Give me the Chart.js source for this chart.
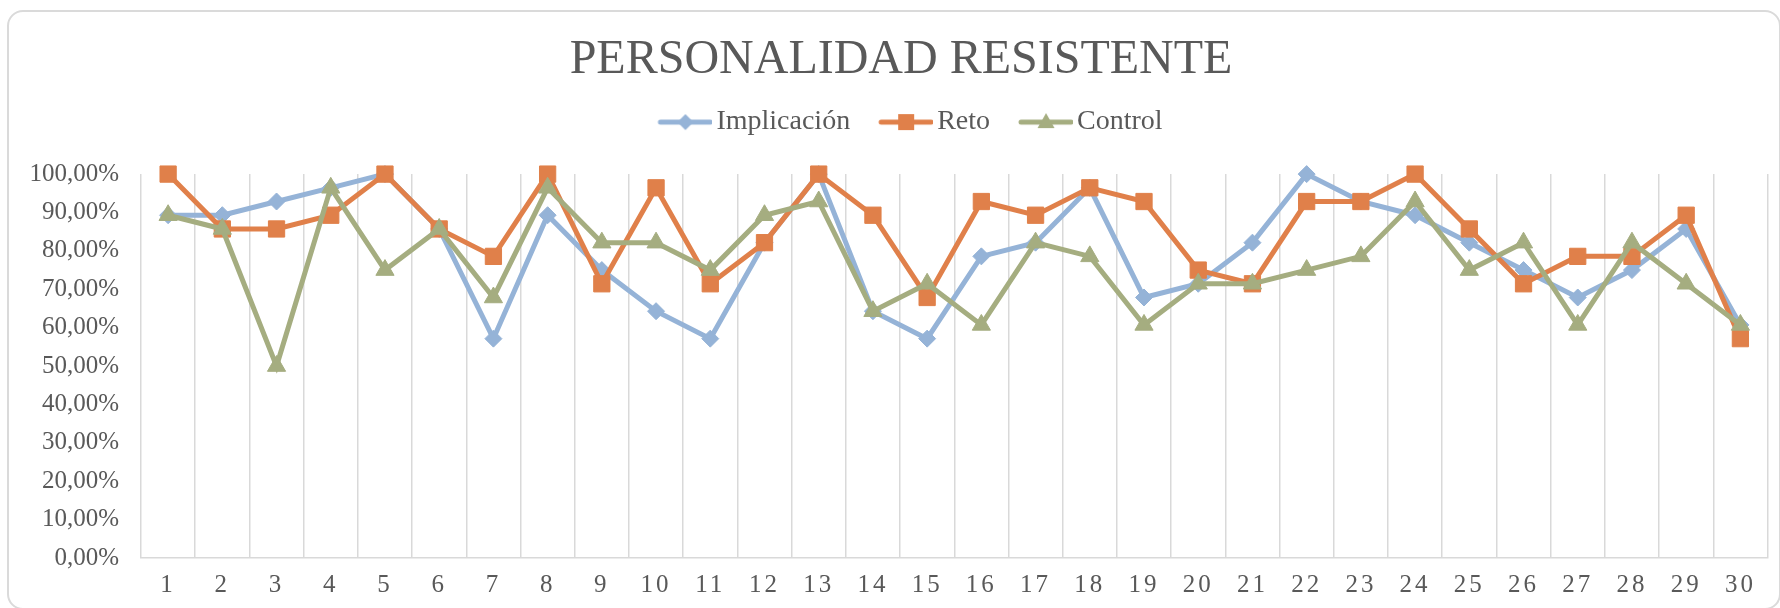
<!DOCTYPE html>
<html lang="es">
<head>
    <meta charset="UTF-8">
    <title>Personalidad Resistente</title>
    <script src="https://cdn.jsdelivr.net/npm/chart.js"></script>
    <style>
        body {
            margin: 0;
            background-color: #fff;
            font-family: "Liberation Serif", serif;
        }

        .frame {
            position: absolute;
            left: 7px;
            top: 10px;
            width: 1770px;
            height: 596px;
            border: 2px solid #dadada;
            border-radius: 16px;
        }

        .chart-container {
            position: absolute;
            left: 0;
            top: 0;
            width: 1780px;
            height: 608px;
        }
    </style>
</head>
<body>

    <div class="frame"></div>
    <div class="chart-container">
        <canvas id="myLineChart"></canvas>
    </div>

    <script>
        // Datos (porcentajes)
        const categorias = ['1', '2', '3', '4', '5', '6', '7', '8', '9', '10',
                            '11', '12', '13', '14', '15', '16', '17', '18', '19', '20',
                            '21', '22', '23', '24', '25', '26', '27', '28', '29', '30'];

        const implicacion = [89.29, 89.29, 92.86, 96.43, 100, 85.71, 57.14, 89.29, 75, 64.29,
                             57.14, 82.14, 100, 64.29, 57.14, 78.57, 82.14, 96.43, 67.86, 71.43,
                             82.14, 100, 92.86, 89.29, 82.14, 75, 67.86, 75, 85.71, 60.71];

        const reto = [100, 85.71, 85.71, 89.29, 100, 85.71, 78.57, 100, 71.43, 96.43,
                      71.43, 82.14, 100, 89.29, 67.86, 92.86, 89.29, 96.43, 92.86, 75,
                      71.43, 92.86, 92.86, 100, 85.71, 71.43, 78.57, 78.57, 89.29, 57.14];

        const control = [89.29, 85.71, 50, 96.43, 75, 85.71, 67.86, 96.43, 82.14, 82.14,
                         75, 89.29, 92.86, 64.29, 71.43, 60.71, 82.14, 78.57, 60.71, 71.43,
                         71.43, 75, 78.57, 92.86, 75, 82.14, 60.71, 82.14, 71.43, 60.71];

        const ticksY = [0, 10, 20, 30, 40, 50, 60, 70, 80, 90, 100];

        const colorImplicacion = '#95b3d7';
        const colorReto = '#e0804a';
        const colorControl = '#a5ad80';

        const fuente = 'Liberation Serif';
        const gris = '#595959';

        // Icono de leyenda: línea con marcador en el centro
        function iconoLeyenda(color, forma) {
            const c = document.createElement('canvas');
            c.width = 83;
            c.height = 28;
            const g = c.getContext('2d');
            g.strokeStyle = color;
            g.fillStyle = color;
            g.lineWidth = 5;
            g.lineCap = 'round';
            g.beginPath();
            g.moveTo(31, 14);
            g.lineTo(81, 14);
            g.stroke();
            const cx = 56, cy = 14;
            g.beginPath();
            if (forma === 'rombo') {
                g.moveTo(cx, cy - 8); g.lineTo(cx + 8, cy); g.lineTo(cx, cy + 8); g.lineTo(cx - 8, cy);
            } else if (forma === 'cuadro') {
                g.rect(cx - 8, cy - 8, 16, 16);
            } else {
                g.moveTo(cx, cy - 9); g.lineTo(cx + 8.5, cy + 6); g.lineTo(cx - 8.5, cy + 6);
            }
            g.closePath();
            g.fill();
            return c;
        }

        const iconos = [
            iconoLeyenda(colorImplicacion, 'rombo'),
            iconoLeyenda(colorReto, 'cuadro'),
            iconoLeyenda(colorControl, 'triangulo')
        ];

        // Espacio extra bajo la leyenda y separación entre dígitos del eje X
        const ajustes = {
            id: 'ajustes',
            beforeInit(chart) {
                const fitOriginal = chart.legend.fit;
                chart.legend.fit = function() {
                    fitOriginal.call(this);
                    this.height += 28;
                };
            },
            afterLayout(chart) {
                const eje = chart.scales.x;
                if (!eje._espaciado) {
                    const original = eje.drawLabels;
                    eje.drawLabels = function(area) {
                        this.ctx.save();
                        this.ctx.letterSpacing = '3px';
                        original.call(this, area);
                        this.ctx.restore();
                    };
                    eje._espaciado = true;
                }
            }
        };

        const ctx = document.getElementById('myLineChart').getContext('2d');
        const myLineChart = new Chart(ctx, {
            type: 'line',
            data: {
                labels: categorias,
                datasets: [{
                    label: 'Implicación',
                    data: implicacion,
                    borderColor: colorImplicacion,
                    backgroundColor: colorImplicacion,
                    borderWidth: 5,
                    pointStyle: 'rectRot',
                    pointRadius: 8.5,
                    pointBorderWidth: 1,
                    clip: false,
                    order: 2
                }, {
                    label: 'Reto',
                    data: reto,
                    borderColor: colorReto,
                    backgroundColor: colorReto,
                    borderWidth: 5,
                    pointStyle: 'rect',
                    pointRadius: 11.5,
                    pointBorderWidth: 1,
                    clip: false,
                    order: 1
                }, {
                    label: 'Control',
                    data: control,
                    borderColor: colorControl,
                    backgroundColor: colorControl,
                    borderWidth: 5,
                    pointStyle: 'triangle',
                    pointRadius: 10.5,
                    pointBorderWidth: 1,
                    clip: false,
                    order: 0
                }]
            },
            options: {
                responsive: true,
                maintainAspectRatio: false,
                animation: false,
                layout: {
                    padding: { left: 30, right: 8, top: 0, bottom: 8 }
                },
                elements: {
                    line: { tension: 0 }
                },
                plugins: {
                    title: {
                        display: true,
                        text: 'PERSONALIDAD RESISTENTE',
                        color: gris,
                        font: { family: fuente, size: 48, weight: 'normal' },
                        padding: { top: 32, bottom: 8.5 }
                    },
                    legend: {
                        position: 'top',
                        labels: {
                            color: gris,
                            font: { family: fuente, size: 28 },
                            usePointStyle: true,
                            pointStyleWidth: 63,
                            padding: 10,
                            sort: (a, b) => a.datasetIndex - b.datasetIndex,
                            generateLabels(chart) {
                                const items = Chart.defaults.plugins.legend.labels.generateLabels(chart);
                                items.forEach(it => { it.pointStyle = iconos[it.datasetIndex]; });
                                return items;
                            }
                        }
                    },
                    tooltip: { enabled: false }
                },
                scales: {
                    x: {
                        offset: true,
                        afterFit(scale) { scale.height = 42; },
                        grid: {
                            offset: true,
                            color: '#d9d9d9',
                            lineWidth: 1.5,
                            drawTicks: false
                        },
                        border: { color: '#d9d9d9', width: 1.5 },
                        ticks: {
                            color: gris,
                            font: { family: fuente, size: 25 },
                            padding: 12,
                            maxRotation: 0,
                            autoSkip: false
                        }
                    },
                    y: {
                        min: 0,
                        max: 100,
                        afterFit(scale) { scale.width = 111; },
                        afterBuildTicks(axis) {
                            axis.ticks = ticksY.map(v => ({ value: v }));
                        },
                        grid: { display: false, drawTicks: false },
                        border: { display: false },
                        ticks: {
                            color: gris,
                            font: { family: fuente, size: 25 },
                            padding: 22,
                            callback: v => v.toFixed(2).replace('.', ',') + '%'
                        }
                    }
                }
            },
            plugins: [ajustes]
        });
    </script>

</body>
</html>
